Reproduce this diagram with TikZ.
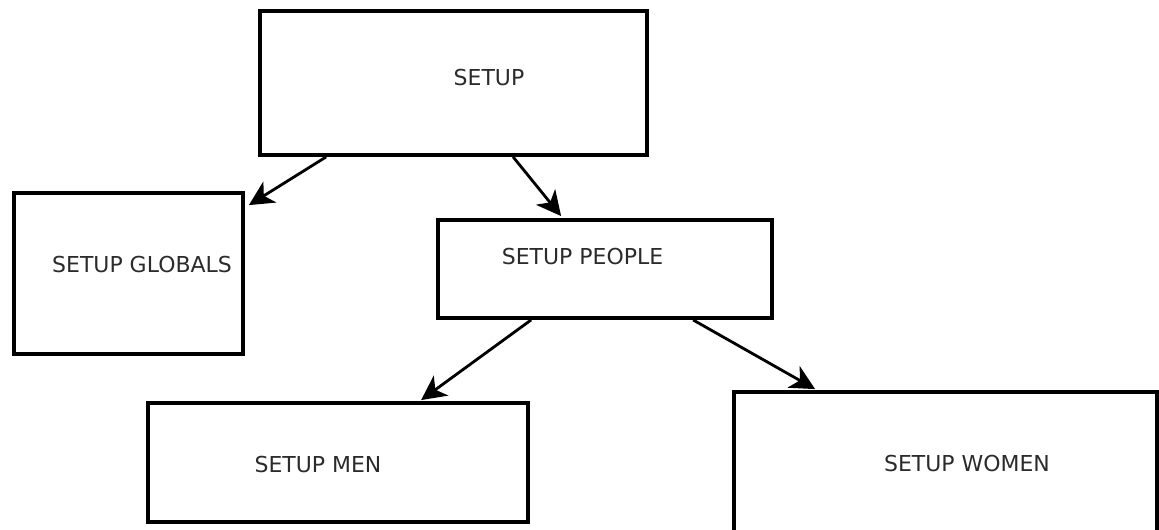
\documentclass[tikz,border=0pt]{standalone}
\usepackage{fontspec}
\setmainfont{DejaVu Sans}
\usetikzlibrary{arrows.meta,calc}
\definecolor{labelgray}{HTML}{2B2B2B}

\begin{document}
\begin{tikzpicture}[x=0.02cm,y=-0.02cm,
    box/.style={draw,line width=2.2pt,inner sep=0pt},
    lbl/.style={text=labelgray,inner sep=0pt,font=\fontsize{12.5}{15}\selectfont},
    arr/.style={line width=1.6pt,-{Stealth[length=14pt,width=14pt,inset=4pt]}}]
  \clip (0,0) rectangle (1159,529);
  % boxes
  \node[box,minimum width=7.74cm,minimum height=2.88cm] (setup) at (453.5,83) {};
  \node[box,minimum width=4.58cm,minimum height=3.22cm] (globals) at (128.5,273.5) {};
  \node[box,minimum width=6.68cm,minimum height=1.96cm] (people) at (605,269) {};
  \node[box,minimum width=7.60cm,minimum height=2.38cm] (men) at (338,462.5) {};
  \node[box,minimum width=8.46cm,minimum height=3.36cm] (women) at (945.5,476) {};
  % labels
  \node[lbl] (setuptxt) at (489,77) {SETUP};
  \node[lbl] (globalstxt) at (142,264) {SETUP GLOBALS};
  \node[lbl] (peopletxt) at (582.5,256) {SETUP PEOPLE};
  \node[lbl] (mentxt) at (318,464) {SETUP MEN};
  \node[lbl] (womentxt) at (967,463) {SETUP WOMEN};
  % arrows
  \draw[arr] ($(setup.south west)+(68,0)$) -- ($(globals.north east)+(4,14)$);
  \draw[arr] ($(setup.south west)+(255,0)$) -- ($(people.north west)+(125,-2)$);
  \draw[arr] ($(people.south west)+(95,0)$) -- ($(men.north west)+(275,-1)$);
  \draw[arr] ($(people.south west)+(257,0)$) -- ($(women.north west)+(83,-1)$);
\end{tikzpicture}
\end{document}
